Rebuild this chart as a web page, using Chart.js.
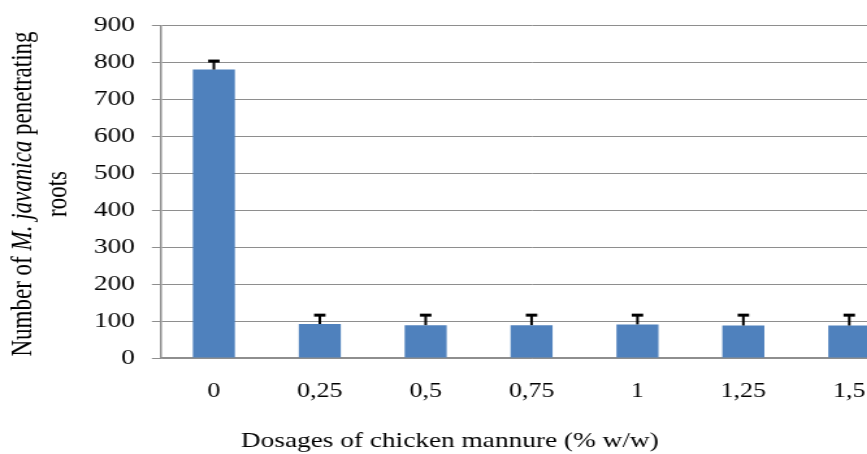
<!DOCTYPE html>
<html>
<head>
<meta charset="utf-8">
<script src="https://cdn.jsdelivr.net/npm/chart.js@4"></script>
<style>
  html, body { margin: 0; padding: 0; background: #fff; overflow: hidden; }
  /* the source picture is stretched sideways, so the whole chart is too */
  #wrap { width: 694px; height: 454px; transform: scaleX(1.3); transform-origin: 0 0; }
</style>
</head>
<body>
<div id="wrap"><canvas id="roots-chart" width="694" height="454"></canvas></div>
<script>
const dosages = ["0", "0,25", "0,5", "0,75", "1", "1,25", "1,5"];
const rootCounts = [781, 92, 89, 89, 91, 88, 88];
const errors = [23, 24, 27, 27, 25, 28, 28];
const yTicks = [0, 100, 200, 300, 400, 500, 600, 700, 800, 900];

const serif = "'Liberation Serif', 'Times New Roman', serif";
const gridGray = "#8e8e8e";

// T-shaped error bars on top of each bar
const errorBars = {
  id: "errorBars",
  afterDatasetsDraw(chart) {
    const ctx = chart.ctx;
    const y = chart.scales.y;
    const meta = chart.getDatasetMeta(0);
    ctx.save();
    ctx.strokeStyle = "#000";
    meta.data.forEach((bar, i) => {
      const top = y.getPixelForValue(rootCounts[i] + errors[i]);
      ctx.lineWidth = 2;
      ctx.beginPath();
      ctx.moveTo(bar.x, bar.y);
      ctx.lineTo(bar.x, top);
      ctx.stroke();
      ctx.lineWidth = 3;
      ctx.beginPath();
      ctx.moveTo(bar.x - 4.4, top);
      ctx.lineTo(bar.x + 4.4, top);
      ctx.stroke();
    });
    ctx.restore();
  },
};

// axis titles (y title has an italic species name)
const axisTitles = {
  id: "axisTitles",
  afterDraw(chart) {
    const ctx = chart.ctx;
    ctx.save();
    ctx.fillStyle = "#000";
    ctx.textBaseline = "alphabetic";

    ctx.font = "21px " + serif;
    ctx.textAlign = "center";
    ctx.fillText("Dosages of chicken mannure (% w/w)", 346, 447);

    const parts = [
      ["Number of ", "23px " + serif],
      ["M. javanica", "italic 23px " + serif],
      [" penetrating", "23px " + serif],
    ];
    ctx.textAlign = "left";
    let total = 0;
    parts.forEach((p) => {
      ctx.font = p[1];
      total += ctx.measureText(p[0]).width;
    });
    ctx.translate(24.4, 194);
    ctx.rotate(-Math.PI / 2);
    let x = -total / 2;
    parts.forEach((p) => {
      ctx.font = p[1];
      ctx.fillText(p[0], x, 0);
      x += ctx.measureText(p[0]).width;
    });
    ctx.font = "23px " + serif;
    ctx.textAlign = "center";
    ctx.fillText("roots", 0, 27);
    ctx.restore();
  },
};

new Chart(document.getElementById("roots-chart"), {
  type: "bar",
  data: {
    labels: dosages,
    datasets: [
      {
        data: rootCounts,
        backgroundColor: "#4f81bd",
        borderColor: "#4f81bd",
        borderWidth: 0,
        categoryPercentage: 1,
        barPercentage: 0.397,
      },
    ],
  },
  options: {
    responsive: false,
    animation: false,
    layout: { padding: { top: 20, left: 0, right: 0, bottom: 0 } },
    plugins: {
      legend: { display: false },
      tooltip: { enabled: false },
    },
    scales: {
      x: {
        grid: { display: false, drawTicks: false },
        border: { display: true, color: gridGray, width: 1.5 },
        ticks: {
          color: "#000",
          font: { family: serif, size: 20 },
          padding: 22,
          maxRotation: 0,
        },
        afterFit: (scale) => {
          scale.height = 96;
        },
      },
      y: {
        min: 0,
        max: 900,
        afterBuildTicks: (scale) => {
          scale.ticks = yTicks.map((v) => ({ value: v }));
        },
        grid: { color: gridGray, lineWidth: 1, tickLength: 7 },
        border: { display: true, color: gridGray, width: 1.5 },
        ticks: {
          color: "#000",
          font: { family: serif, size: 21 },
          padding: 13,
        },
        afterFit: (scale) => {
          scale.width = 123.8;
        },
      },
    },
  },
  plugins: [errorBars, axisTitles],
});
</script>
</body>
</html>
